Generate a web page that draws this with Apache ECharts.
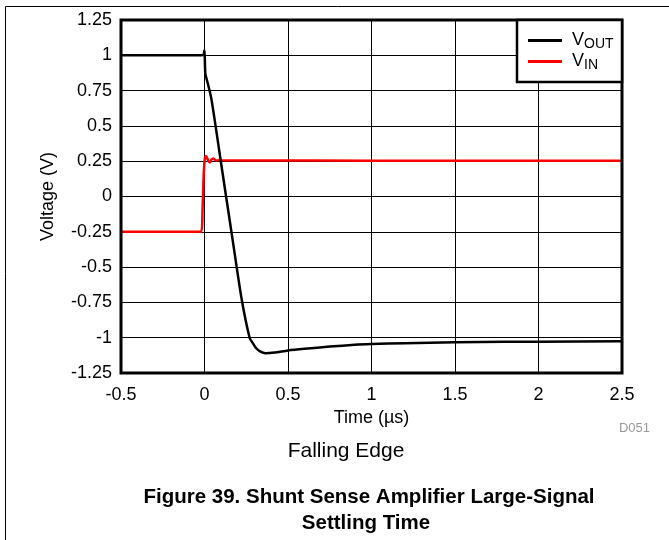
<!DOCTYPE html>
<html>
<head>
<meta charset="utf-8">
<script src="https://cdn.jsdelivr.net/npm/echarts@6/dist/echarts.min.js"></script>
<style>
html,body{margin:0;padding:0;background:#fff;}
#c{width:669px;height:540px;}
</style>
</head>
<body>
<div id="c"></div>
<script>
// VOUT (black) time points (µs) and voltages (V)
var tOut = [-0.5, -0.1, -0.02, -0.006, 0.0, 0.005, 0.02, 0.04, 0.06, 0.1, 0.16, 0.22, 0.27, 0.29, 0.31, 0.33, 0.365, 0.42, 0.5, 0.6, 0.75, 0.9, 1.0, 1.2, 1.5, 1.8, 2.0, 2.5];
var vOut = [1.0, 1.0, 1.0, 1.005, 1.035, 0.87, 0.80, 0.70, 0.55, 0.23, -0.24, -0.71, -1.0, -1.04, -1.075, -1.095, -1.11, -1.105, -1.09, -1.078, -1.063, -1.05, -1.045, -1.039, -1.032, -1.029, -1.028, -1.026];
// VIN (red)
var tIn = [-0.5, -0.1, -0.02, -0.012, -0.005, 0.002, 0.008, 0.014, 0.022, 0.032, 0.042, 0.052, 0.062, 0.072, 0.085, 0.1, 0.3, 1.0, 2.5];
var vIn = [-0.25, -0.25, -0.25, -0.1, 0.15, 0.27, 0.287, 0.278, 0.255, 0.24, 0.262, 0.27, 0.26, 0.254, 0.258, 0.256, 0.255, 0.254, 0.254];
// Axis ticks
var xTicks = [-0.5, 0, 0.5, 1, 1.5, 2, 2.5];
var yTicks = [-1.25, -1, -0.75, -0.5, -0.25, 0, 0.25, 0.5, 0.75, 1, 1.25];
var seriesNames = ['VOUT', 'VIN'];

function zip(a, b) { return a.map(function (x, i) { return [x, b[i]]; }); }

var font = 'Arial, "Liberation Sans", sans-serif';
var chart = echarts.init(document.getElementById('c'));
chart.setOption({
  animation: false,
  backgroundColor: '#fff',
  grid: { left: 121, right: 47, top: 20, bottom: 167, show: true, borderColor: '#000', borderWidth: 3, z: 3 },
  xAxis: {
    type: 'value', min: xTicks[0], max: xTicks[xTicks.length - 1], interval: 0.5,
    axisLine: { show: false }, axisTick: { show: false },
    splitLine: { show: true, lineStyle: { color: '#000', width: 1 } },
    axisLabel: { color: '#000', fontSize: 18, fontFamily: font, margin: 13 },
    name: 'Time (\u00B5s)', nameLocation: 'middle', nameGap: 34,
    nameTextStyle: { color: '#000', fontSize: 18, fontFamily: font }
  },
  yAxis: {
    type: 'value', min: yTicks[0], max: yTicks[yTicks.length - 1], interval: 0.25,
    axisLine: { show: false }, axisTick: { show: false },
    splitLine: { show: true, lineStyle: { color: '#000', width: 1 } },
    axisLabel: { color: '#000', fontSize: 18, fontFamily: font, margin: 9 },
    name: 'Voltage (V)', nameLocation: 'middle', nameGap: 64, nameRotate: 90,
    nameTextStyle: { color: '#000', fontSize: 18, fontFamily: font }
  },
  legend: {
    orient: 'vertical', left: 528, top: 30, padding: 0, itemGap: 0,
    icon: 'rect', itemWidth: 34, itemHeight: 3, z: 10,
    data: seriesNames,
    formatter: function (n) { return '{m|V}{s|' + n.slice(1) + '}'; },
    textStyle: {
      color: '#000', fontFamily: font, lineHeight: 21, padding: [0, 0, 0, 5],
      rich: {
        m: { fontSize: 18, fontFamily: font, color: '#000', lineHeight: 21 },
        s: { fontSize: 14, fontFamily: font, color: '#000', lineHeight: 21, padding: [7, 0, 0, 0] }
      }
    }
  },
  graphic: [
    { type: 'rect', z: 8, shape: { x: 517, y: 20, width: 105, height: 62 }, style: { fill: '#fff', stroke: '#000', lineWidth: 2.5 } },
    { type: 'line', shape: { x1: 5.5, y1: 6.5, x2: 669, y2: 6.5 }, style: { stroke: '#000', lineWidth: 1 } },
    { type: 'line', shape: { x1: 5.5, y1: 6.5, x2: 5.5, y2: 540 }, style: { stroke: '#000', lineWidth: 1 } },
    { type: 'text', x: 650, y: 428, style: { text: 'D051', fill: '#999', font: '13px ' + font, textAlign: 'right', textVerticalAlign: 'middle' } },
    { type: 'text', x: 346, y: 451, style: { text: 'Falling Edge', fill: '#000', font: '21px ' + font, textAlign: 'center', textVerticalAlign: 'middle' } },
    { type: 'text', x: 369, y: 497, style: { text: 'Figure 39. Shunt Sense Amplifier Large-Signal', fill: '#000', font: 'bold 20.5px ' + font, textAlign: 'center', textVerticalAlign: 'middle' } },
    { type: 'text', x: 366, y: 523, style: { text: 'Settling Time', fill: '#000', font: 'bold 20.5px ' + font, textAlign: 'center', textVerticalAlign: 'middle' } }
  ],
  series: [
    { name: 'VOUT', type: 'line', data: zip(tOut, vOut), showSymbol: false, symbol: 'none', smooth: 0.2,
      lineStyle: { color: '#000', width: 2.5 }, itemStyle: { color: '#000' }, z: 2 },
    { name: 'VIN', type: 'line', data: zip(tIn, vIn), showSymbol: false, symbol: 'none', smooth: 0.2,
      lineStyle: { color: '#ff0000', width: 2.5 }, itemStyle: { color: '#ff0000' }, z: 1 }
  ]
});
</script>
</body>
</html>
